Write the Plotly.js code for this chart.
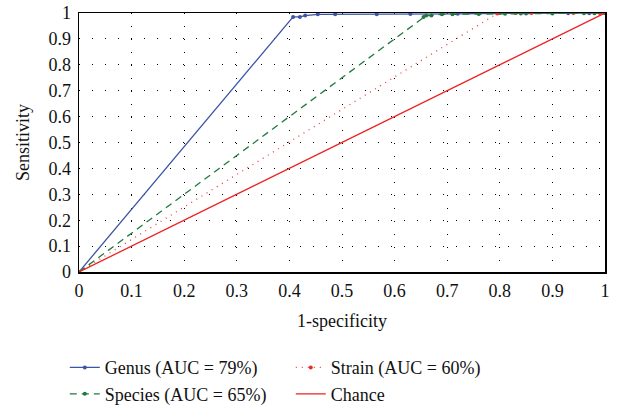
<!DOCTYPE html>
<html>
<head>
<meta charset="utf-8">
<script src="https://cdn.plot.ly/plotly-3.0.1.min.js"></script>
<style>html,body{margin:0;padding:0;background:#fff;}#chart{width:619px;height:408px;}</style>
</head>
<body>
<div id="chart"></div>
<script>
const genusX = [0, 0.407, 0.42, 0.43, 0.454, 0.487, 0.566, 0.63, 0.69, 0.72, 0.76, 0.85, 0.93, 0.97, 1];
const genusY = [0, 0.985, 0.985, 0.99, 0.995, 0.995, 0.995, 0.996, 0.997, 0.997, 0.998, 0.998, 0.999, 0.999, 1];
const speciesX = [0, 0.655, 0.66, 0.67, 0.69, 0.71, 0.76, 0.81, 0.84, 0.9, 0.96, 0.98, 1];
const speciesY = [0, 0.985, 0.99, 0.99, 0.995, 0.995, 0.996, 0.997, 0.998, 0.998, 0.999, 0.999, 1];
const strainX = [0, 0.795, 0.80, 0.83, 0.86, 0.90, 0.94, 0.98, 0.99, 1];
const strainY = [0, 0.998, 1, 1, 1, 1, 1, 1, 1, 1];
const chanceX = [0, 1];
const chanceY = [0, 1];
const names = ["Genus (AUC = 79%)", "Species (AUC = 65%)", "Strain (AUC = 60%)", "Chance"];
const tickVals = [0, 0.1, 0.2, 0.3, 0.4, 0.5, 0.6, 0.7, 0.8, 0.9, 1];
const tickText = ["0", "0.1", "0.2", "0.3", "0.4", "0.5", "0.6", "0.7", "0.8", "0.9", "1"];

const FONT = "'Liberation Serif', 'Times New Roman', 'DejaVu Serif', serif";
const traces = [
  {x: genusX, y: genusY, name: names[0], mode: "lines+markers",
   line: {color: "#3c55a5", width: 1.3}, marker: {size: 4, color: "#3c55a5"}, legendrank: 1},
  {x: strainX, y: strainY, name: names[2], mode: "lines+markers",
   line: {color: "#ee3b3b", width: 1.3, dash: "1px,5px"}, marker: {size: 4, color: "#ee2b2b"}, legendrank: 2},
  {x: speciesX, y: speciesY, name: names[1], mode: "lines+markers",
   line: {color: "#1f7a3e", width: 1.3, dash: "7px,5px"}, marker: {size: 4, color: "#1f7a3e"}, legendrank: 3},
  {x: chanceX, y: chanceY, name: names[3], mode: "lines",
   line: {color: "#ee2020", width: 1.3}, legendrank: 4}
];

const axisCommon = {
  range: [0, 1], tickvals: tickVals, ticktext: tickText,
  showgrid: true, gridcolor: "#000", gridwidth: 1, griddash: "1px,12px",
  zeroline: false, showline: true, linecolor: "#000", linewidth: 1.5, mirror: true,
  ticks: "", tickfont: {family: FONT, size: 18, color: "#111"}
};

const layout = {
  width: 619, height: 408,
  margin: {l: 79, r: 14, t: 13, b: 136, autoexpand: false},
  paper_bgcolor: "#fff", plot_bgcolor: "#fff",
  font: {family: FONT, color: "#111", size: 18},
  xaxis: Object.assign({}, axisCommon, {
    ticklabelstandoff: 2,
    title: {text: "1-specificity", font: {family: FONT, size: 18}, standoff: 14}
  }),
  yaxis: Object.assign({}, axisCommon, {
    ticklabelstandoff: 3,
    title: {text: "Sensitivity", font: {family: FONT, size: 18}, standoff: 14}
  }),
  legend: {
    orientation: "h", x: -0.027, xanchor: "left", y: -0.298, yanchor: "top",
    entrywidth: 181, entrywidthmode: "pixels", tracegroupgap: 0,
    font: {family: FONT, size: 18, color: "#111"}, bgcolor: "rgba(0,0,0,0)"
  },
  showlegend: true
};

Plotly.newPlot("chart", traces, layout, {displayModeBar: false, staticPlot: true});
</script>
</body>
</html>
